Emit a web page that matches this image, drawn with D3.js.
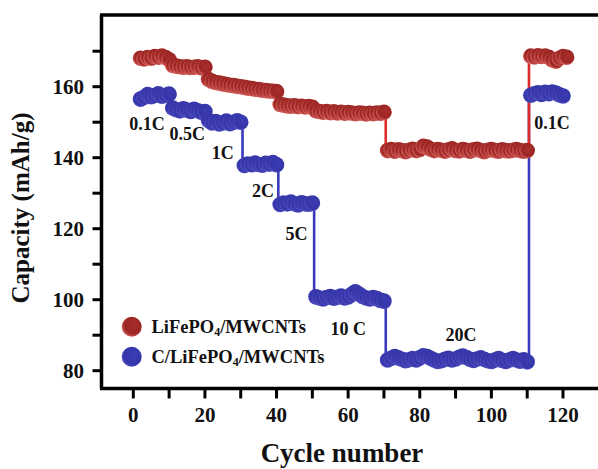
<!DOCTYPE html>
<html>
<head>
<meta charset="utf-8">
<script src="https://cdn.jsdelivr.net/npm/d3@7"></script>
<style>
  html, body { margin: 0; padding: 0; background: #fff; }
  svg { display: block; }
  text { font-family: "Liberation Serif", "Times New Roman", serif; font-weight: bold; fill: #111; }
</style>
</head>
<body>
<div id="chart"></div>
<script>
// cycle numbers per series
const cyclesRed = d3.range(2, 122);
const cyclesBlue = d3.range(2, 121);

// LiFePO4/MWCNTs capacity (mAh/g)
const redValues = [
  // 0.1C
  168.0, 167.8, 168.2, 168.0, 168.5, 168.3, 168.6, 168.2, 167.6,
  // 0.5C
  166.0, 165.8, 165.6, 165.5, 165.6, 165.4, 165.5, 165.6, 165.3, 165.5,
  // 1C
  162.0, 161.5, 161.2, 161.0, 160.8, 160.6, 160.4, 160.3, 160.1, 160.0,
  // 2C
  159.8, 159.6, 159.5, 159.3, 159.2, 159.0, 158.9, 158.8, 158.7, 158.6,
  // 5C
  155.0, 154.8, 154.6, 154.5, 154.6, 154.4, 154.5, 154.3, 154.4, 154.2,
  // 10C
  153.2, 153.0, 152.8, 153.0, 152.7, 152.9, 152.6, 152.8, 152.5, 152.7,
  152.6, 152.4, 152.6, 152.5, 152.3, 152.5, 152.4, 152.6, 152.5, 152.8,
  // 20C
  142.0, 142.3, 141.8, 142.2, 142.0, 141.7, 142.1, 142.4, 142.0, 142.3,
  143.2, 143.0, 142.4, 142.0, 142.3, 142.1, 141.8, 142.2, 142.5, 142.0,
  141.9, 142.3, 142.1, 141.8, 142.2, 142.4, 142.0, 141.7, 142.1, 142.3,
  142.0, 141.8, 142.2, 142.0, 141.9, 142.1, 142.3, 142.0, 141.8, 142.0,
  // 0.1C
  168.6, 168.4, 168.7, 168.5, 168.6, 168.3, 167.5, 167.2, 168.0, 168.5, 168.3
];

// C/LiFePO4/MWCNTs capacity (mAh/g)
const blueValues = [
  // 0.1C
  156.5, 157.0, 157.8, 157.2, 157.5, 158.0, 157.3, 157.6, 157.9,
  // 0.5C
  154.0, 153.5, 153.2, 153.8, 153.4, 153.0, 153.6, 153.2, 152.8, 153.0,
  // 1C
  150.5, 149.8, 150.2, 149.5, 149.8, 150.3, 149.6, 150.0, 150.4, 150.0,
  // 2C
  137.8, 138.2, 138.0, 138.5, 138.1, 137.9, 138.4, 138.2, 138.6, 138.0,
  // 5C
  126.8, 127.2, 127.0, 127.5, 127.0, 126.7, 127.3, 127.0, 126.9, 127.2,
  // 10C
  100.8, 100.5, 100.2, 100.6, 100.9, 100.4, 100.7, 101.0, 100.5, 100.8,
  101.5, 102.2, 101.6, 100.9, 100.5, 100.2, 100.6, 100.3, 99.8, 99.6,
  // 20C
  83.0, 83.5, 84.0, 83.6, 83.2, 82.8, 83.1, 83.4, 83.0, 83.6,
  84.2, 84.0, 83.5, 83.0, 82.6, 82.8, 83.2, 83.5, 83.0, 83.3,
  83.8, 84.1, 83.7, 83.2, 82.9, 83.3, 83.6, 83.2, 82.8, 82.6,
  83.0, 83.4, 82.9, 82.6, 83.0, 83.4, 83.0, 82.7, 83.1, 82.5,
  // 0.1C
  157.6, 158.0, 158.3, 157.8, 158.4, 158.0, 158.5, 158.2, 157.7, 157.4
];

const xTicks = [0, 20, 40, 60, 80, 100, 120];
const xMinorTicks = d3.range(0, 121, 10);
const yTicks = [80, 100, 120, 140, 160];
const yMinorTicks = d3.range(80, 171, 10);

const legendNames = ['LiFePO4/MWCNTs', 'C/LiFePO4/MWCNTs'];

// rate labels: [text, cycle, capacity]
const rateLabels = [
  ['0.1C', 3.8, 147.8],
  ['0.5C', 15.1, 145.0],
  ['1C', 25.0, 139.6],
  ['2C', 36.2, 129.0],
  ['5C', 45.6, 116.8],
  ['10 C', 60.0, 90.1],
  ['20C', 91.5, 88.5],
  ['0.1C', 116.9, 148.1]
];

const width = 598, height = 469;
const svg = d3.select('#chart').append('svg')
  .attr('width', width).attr('height', height);

const x = d3.scaleLinear().domain([0, 120]).range([133.3, 563]);
const y = d3.scaleLinear().domain([80, 160]).range([370.7, 86.7]);

const frameLeft = 101.5, frameTop = y(180.2), frameBottom = y(75);

// gradients for the 3D-looking balls
const defs = svg.append('defs');
function ball(id, stops){
  let g = defs.append('radialGradient').attr('id', id)
    .attr('cx', '55%').attr('cy', '45%').attr('r', '60%')
    .attr('fx', '62%').attr('fy', '38%');
  stops.forEach(s => g.append('stop').attr('offset', s[0]).attr('stop-color', s[1]));
}
ball('gRed', [[0, '#a82e2a'], [0.7, '#9c2624'], [0.88, '#c44c48'], [1, '#ee8e8a']]);
ball('gBlue', [[0, '#3c3cb4'], [0.75, '#3636aa'], [0.92, '#4a4abd'], [1, '#6a6ad0']]);

// lines
const redData = cyclesRed.map((c, i) => [c, redValues[i]]);
const blueData = cyclesBlue.map((c, i) => [c, blueValues[i]]);
const line = d3.line().x(d => x(d[0])).y(d => y(d[1])).curve(d3.curveStep);

svg.append('path').datum(blueData).attr('d', line)
  .attr('fill', 'none').attr('stroke', '#3a3abd').attr('stroke-width', 2.6);
svg.append('path').datum(redData).attr('d', line)
  .attr('fill', 'none').attr('stroke', '#dc2a2a').attr('stroke-width', 2.6);

// markers
svg.append('g').selectAll('circle').data(blueData).enter()
  .append('circle')
  .attr('cx', d => x(d[0])).attr('cy', d => y(d[1])).attr('r', 7.8)
  .attr('fill', 'url(#gBlue)');
svg.append('g').selectAll('circle').data(redData).enter()
  .append('circle')
  .attr('cx', d => x(d[0])).attr('cy', d => y(d[1])).attr('r', 7.8)
  .attr('fill', 'url(#gRed)');

// frame
svg.append('line').attr('x1', frameLeft - 1.5).attr('x2', width).attr('y1', frameTop).attr('y2', frameTop)
  .attr('stroke', '#000').attr('stroke-width', 3.5);
svg.append('line').attr('x1', frameLeft).attr('x2', frameLeft).attr('y1', frameTop).attr('y2', frameBottom)
  .attr('stroke', '#000').attr('stroke-width', 3.5);
svg.append('line').attr('x1', frameLeft - 1.5).attr('x2', width).attr('y1', frameBottom).attr('y2', frameBottom)
  .attr('stroke', '#000').attr('stroke-width', 3.5);

// x ticks
svg.append('g').selectAll('line').data(xMinorTicks).enter()
  .append('line')
  .attr('x1', d => x(d)).attr('x2', d => x(d))
  .attr('y1', frameBottom).attr('y2', frameBottom + 10)
  .attr('stroke', '#000').attr('stroke-width', 3);
svg.append('g').selectAll('text').data(xTicks).enter()
  .append('text')
  .attr('x', d => x(d)).attr('y', 422)
  .attr('text-anchor', 'middle')
  .style('font-size', '21px')
  .text(d => d);

// y ticks
svg.append('g').selectAll('line').data(yMinorTicks).enter()
  .append('line')
  .attr('x1', frameLeft).attr('x2', frameLeft - 9)
  .attr('y1', d => y(d)).attr('y2', d => y(d))
  .attr('stroke', '#000').attr('stroke-width', 3);
svg.append('g').selectAll('text').data(yTicks).enter()
  .append('text')
  .attr('x', 84).attr('y', d => y(d) + 7.5)
  .attr('text-anchor', 'end')
  .style('font-size', '21px')
  .text(d => d);

// axis titles
svg.append('text')
  .attr('x', 342).attr('y', 462)
  .attr('text-anchor', 'middle')
  .style('font-size', '27px')
  .text('Cycle number');
svg.append('text')
  .attr('transform', 'translate(29,208) rotate(-90)')
  .attr('text-anchor', 'middle')
  .style('font-size', '25px')
  .text('Capacity (mAh/g)');

// rate labels
svg.append('g').selectAll('text').data(rateLabels).enter()
  .append('text')
  .attr('x', d => x(d[1])).attr('y', d => y(d[2]))
  .attr('text-anchor', 'middle')
  .style('font-size', '18px')
  .text(d => d[0]);

// legend
const legend = svg.append('g');
legendNames.forEach((name, i) => {
  let ly = 326.7 + i * 30;
  legend.append('circle').attr('cx', 131.7).attr('cy', ly).attr('r', 10)
    .attr('fill', i == 0 ? 'url(#gRed)' : 'url(#gBlue)');
  let t = legend.append('text').attr('x', 151.5).attr('y', ly + 6).style('font-size', '18.5px');
  let parts = name.split('4');
  t.append('tspan').text(parts[0]);
  t.append('tspan').attr('baseline-shift', '-25%').style('font-size', '12px').text('4');
  t.append('tspan').text(parts[1]);
});
</script>
</body>
</html>
